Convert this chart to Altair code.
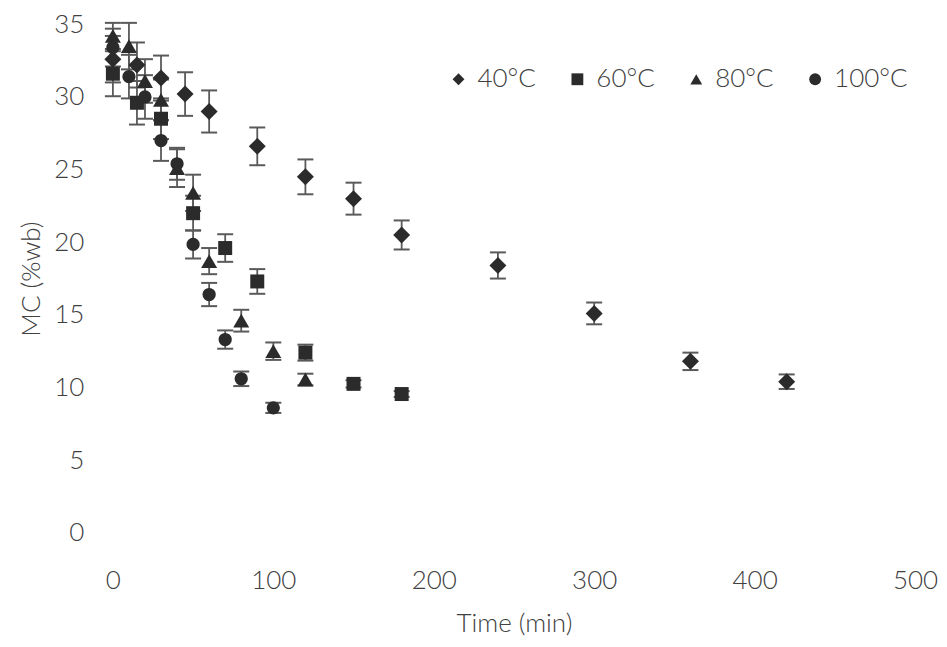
import altair as alt
import pandas as pd

# ---- data ----
series = ["40°C", "60°C", "80°C", "100°C"]

t40 = [0, 15, 30, 45, 60, 90, 120, 150, 180, 240, 300, 360, 420]
mc40 = [32.6, 32.2, 31.3, 30.2, 29.0, 26.6, 24.5, 23.0, 20.5, 18.4, 15.1, 11.8, 10.4]
err40 = [1.6, 1.55, 1.55, 1.5, 1.45, 1.3, 1.2, 1.1, 1.0, 0.9, 0.75, 0.6, 0.5]

t60 = [0, 15, 30, 50, 70, 90, 120, 150, 180]
mc60 = [31.6, 29.6, 28.5, 22.0, 19.6, 17.3, 12.4, 10.25, 9.55]
err60 = [1.55, 1.5, 1.4, 1.2, 0.95, 0.85, 0.55, 0.25, 0.2]

t80 = [0, 10, 20, 30, 40, 50, 60, 80, 100, 120]
mc80 = [34.2, 33.5, 31.1, 29.8, 25.1, 23.4, 18.7, 14.6, 12.5, 10.55]
err80 = [0.9, 1.6, 1.5, 1.4, 1.3, 1.25, 0.9, 0.75, 0.6, 0.4]

t100 = [0, 10, 20, 30, 40, 50, 60, 70, 80, 100]
mc100 = [33.4, 31.4, 30.0, 27.0, 25.4, 19.85, 16.4, 13.3, 10.6, 8.6]
err100 = [1.3, 1.5, 1.5, 1.4, 1.1, 0.97, 0.8, 0.63, 0.5, 0.35]

x_ticks = [0, 100, 200, 300, 400, 500]
y_ticks = [0, 5, 10, 15, 20, 25, 30, 35]

# marker styling (pixel areas per shape)
marker_shape = ["diamond", "square", "triangle-up", "circle"]
marker_area = dict(zip(series, [289, 196, 256, 177]))

rows = []
for name, ts, ms, es in zip(series, [t40, t60, t80, t100], [mc40, mc60, mc80, mc100],
                            [err40, err60, err80, err100]):
    for t, m, e in zip(ts, ms, es):
        rows.append({"series": name, "t": t, "mc": m, "lo": m - e, "hi": m + e,
                     "area": marker_area[name]})
df = pd.DataFrame(rows)

FONT = "Lato"
TXT = "#404040"
MARK = "#2b2b2b"
BAR = "#5a5a5a"

x_enc = alt.X("t:Q", scale=alt.Scale(domain=[0, 500], nice=False),
              axis=alt.Axis(values=x_ticks, title="Time (min)", grid=False, domain=False,
                            ticks=False, tickSize=0, labelPadding=35, titlePadding=17,
                            labelFlush=False, labelOverlap=False,
                            labelFontSize=26, titleFontSize=26, labelFont=FONT, titleFont=FONT,
                            labelFontWeight=300, titleFontWeight=300,
                            labelColor=TXT, titleColor=TXT))
y_scale = alt.Scale(domain=[0, 35], nice=False)
y_axis = alt.Axis(values=y_ticks, title="MC (%wb)", grid=False, domain=False, ticks=False,
                  tickSize=0, labelPadding=29, titlePadding=9, labelFontSize=26,
                  labelFlush=False, labelOverlap=False,
                  titleFontSize=26, labelFont=FONT, titleFont=FONT, labelFontWeight=300,
                  titleFontWeight=300, labelColor=TXT, titleColor=TXT)

base = alt.Chart(df)

bars = base.mark_rule(color=BAR, strokeWidth=1.8).encode(
    x=x_enc,
    y=alt.Y("lo:Q", scale=y_scale, axis=y_axis),
    y2="hi:Q",
)

caps = base.transform_fold(["lo", "hi"], as_=["end", "val"]).mark_point(
    shape="M-1,0L1,0", size=256, filled=False, color=BAR, strokeWidth=2, opacity=1
).encode(
    x="t:Q",
    y=alt.Y("val:Q", scale=y_scale),
)

shape_scale = alt.Scale(domain=series, range=marker_shape)

points = base.mark_point(filled=True, opacity=1, color=MARK).encode(
    x="t:Q",
    y=alt.Y("mc:Q", scale=y_scale),
    shape=alt.Shape("series:N", scale=shape_scale,
                    legend=alt.Legend(title=None, orient="none", direction="horizontal",
                                      legendX=333, legendY=42)),
    size=alt.Size("area:Q", scale=None),
)

chart = alt.layer(bars, caps, points).properties(
    width=803,
    height=509,
    padding={"left": 105, "top": 16, "right": 24, "bottom": 106},
    autosize=alt.AutoSizeParams(type="none"),
    background="white",
).configure_view(stroke=None).configure_legend(
    padding=0, symbolSize=140, symbolFillColor=MARK, symbolStrokeColor=MARK,
    symbolStrokeWidth=0, labelFont=FONT, labelFontSize=26, labelFontWeight=300,
    labelColor=TXT, labelOffset=6, columnPadding=13, gridAlign="all",
)

chart.save("out.html", embed_options={"renderer": "svg", "actions": False})
